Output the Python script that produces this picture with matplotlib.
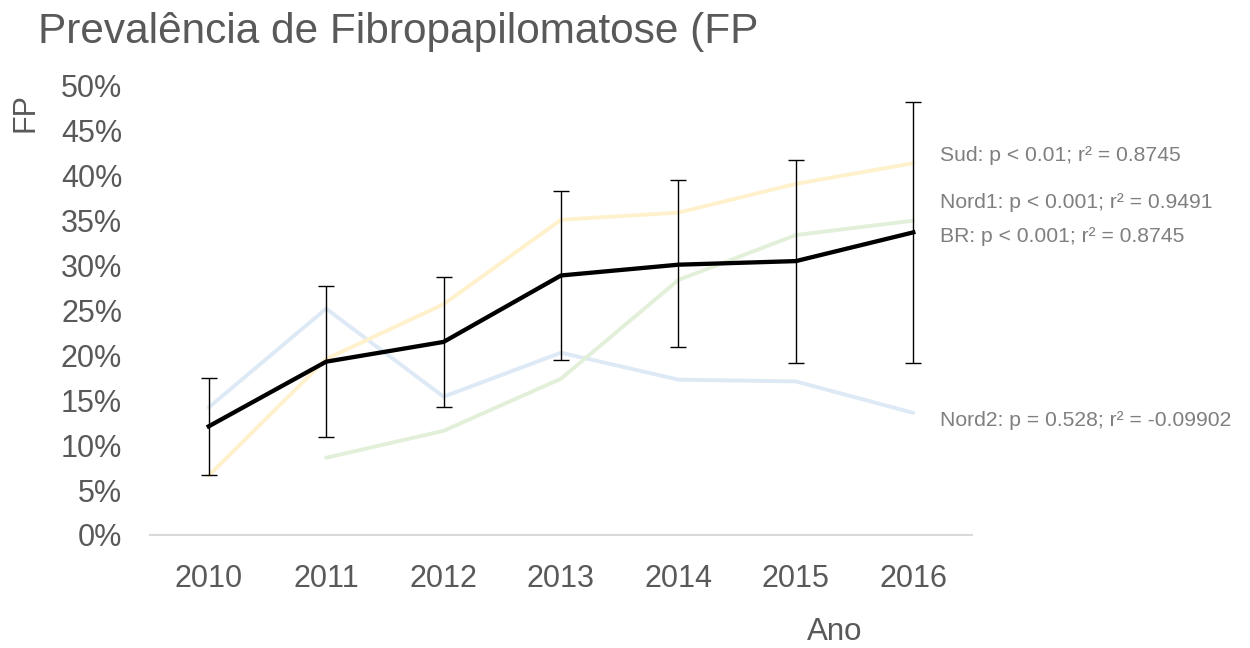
import matplotlib
matplotlib.use("Agg")
import matplotlib.pyplot as plt
from matplotlib.ticker import PercentFormatter

plt.rcParams['font.family'] = ['Liberation Sans', 'DejaVu Sans']

anos = ['2010', '2011', '2012', '2013', '2014', '2015', '2016']
br = [12.1, 19.3, 21.5, 28.9, 30.1, 30.5, 33.7]
br_sup = [17.5, 27.7, 28.7, 38.3, 39.5, 41.8, 48.2]
br_inf = [6.7, 10.9, 14.2, 19.5, 20.9, 19.2, 19.2]
sud = [6.6, 19.6, 25.7, 35.1, 35.9, 39.1, 41.4]
nord1 = [None, 8.6, 11.6, 17.4, 28.4, 33.4, 35.0]
nord2 = [14.2, 25.2, 15.4, 20.3, 17.3, 17.1, 13.6]

rotulos = ['Sud: p < 0.01; r² = 0.8745',
           'Nord1: p < 0.001; r² = 0.9491',
           'BR: p < 0.001; r² = 0.8745',
           'Nord2: p = 0.528; r² = -0.09902']
rotulo_y = [42.3, 37.0, 33.2, 12.8]

cinza = '#595959'
x = list(range(len(anos)))

fig = plt.figure(figsize=(12.5, 6.48), dpi=100)
ax = fig.add_axes([0.12, 0.1744, 0.6576, 0.6929])

ax.plot(x, nord2, color='#dde9f5', lw=2.8, solid_capstyle='round')
x1 = [i for i, v in zip(x, nord1) if v is not None]
ax.plot(x1, [v for v in nord1 if v is not None], color='#e2efd9', lw=2.8,
        solid_capstyle='round')
ax.plot(x, sud, color='#fff1cc', lw=2.8, solid_capstyle='round')

erro = [[b - i for b, i in zip(br, br_inf)], [s - b for b, s in zip(br, br_sup)]]
ax.errorbar(x, br, yerr=erro, fmt='none', ecolor='black', elinewidth=1.0,
            capsize=6, capthick=1.0)
ax.plot(x, br, color='black', lw=3.1)

for txt, yv in zip(rotulos, rotulo_y):
    ax.text(6.23, yv, txt, fontsize=15.2, color='#7f7f7f', va='center',
            ha='left', clip_on=False)

ax.set_xlim(-0.5, 6.5)
ax.set_ylim(0, 50)
ax.set_yticks(range(0, 51, 5))
ax.yaxis.set_major_formatter(PercentFormatter(decimals=0))
ax.set_xticks(x)
ax.set_xticklabels(anos)
ax.tick_params(axis='both', length=0, labelsize=22, colors=cinza)
ax.tick_params(axis='y', pad=20)
ax.tick_params(axis='x', pad=21)
for s in ['top', 'right', 'left']:
    ax.spines[s].set_visible(False)
ax.spines['bottom'].set_color('#d9d9d9')
ax.spines['bottom'].set_linewidth(1.5)

fig.text(0.03, 0.951, 'Prevalência de Fibropapilomatose (FP', fontsize=30.5,
         color=cinza, ha='left', va='center')
fig.text(0.02, 0.827, 'FP', fontsize=22, color=cinza, rotation=90,
         ha='center', va='center')
fig.text(0.668, 0.025, 'Ano', fontsize=22.5, color=cinza, ha='center',
         va='center')

fig.savefig('out.png', dpi=100)
